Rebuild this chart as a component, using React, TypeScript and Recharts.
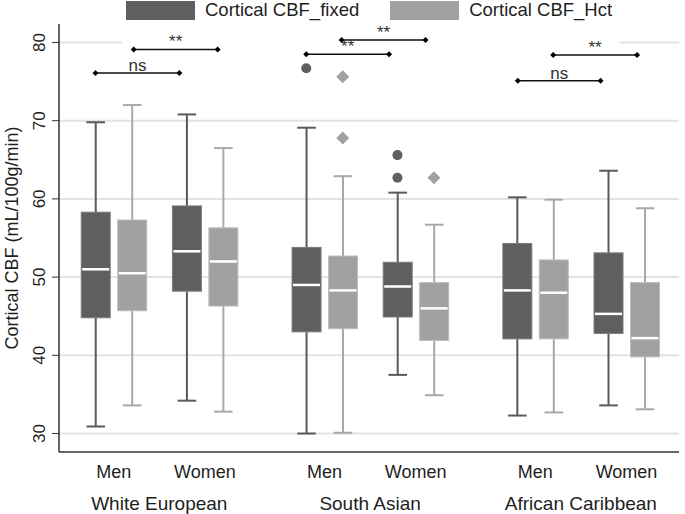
import {
  Bar,
  CartesianGrid,
  ComposedChart,
  Legend,
  ReferenceLine,
  Scatter,
  XAxis,
  YAxis,
} from "recharts"

const groups = ["White European", "South Asian", "African Caribbean"]
const sexes = ["Men", "Women"]
const measures = ["Cortical CBF_fixed", "Cortical CBF_Hct"]

// order: WE men, WE women, SA men, SA women, AC men, AC women
const fixedMin = [30.9, 34.2, 30.0, 37.5, 32.3, 33.6]
const fixedQ1 = [44.8, 48.2, 43.0, 44.9, 42.1, 42.8]
const fixedMedian = [51.0, 53.3, 49.0, 48.8, 48.3, 45.3]
const fixedQ3 = [58.3, 59.1, 53.8, 51.9, 54.3, 53.1]
const fixedMax = [69.8, 70.8, 69.1, 60.8, 60.2, 63.6]

const hctMin = [33.6, 32.8, 30.1, 34.9, 32.7, 33.1]
const hctQ1 = [45.7, 46.3, 43.4, 41.9, 42.1, 39.8]
const hctMedian = [50.5, 52.0, 48.3, 46.0, 48.0, 42.2]
const hctQ3 = [57.3, 56.3, 52.7, 49.3, 52.2, 49.3]
const hctMax = [72.0, 66.5, 62.9, 56.7, 59.9, 58.8]

// outliers: index into the six group/sex slots above
const fixedOutlierSlot = [2, 3, 3]
const fixedOutlierValue = [76.7, 65.6, 62.7]
const hctOutlierSlot = [2, 2, 3]
const hctOutlierValue = [75.6, 67.8, 62.7]

const bracketFrom = [1.0, 2.05, 6.78, 7.75, 12.58, 13.55]
const bracketTo = [3.3, 4.35, 9.05, 10.05, 14.85, 15.85]
const bracketY = [76.1, 79.1, 78.5, 80.3, 75.1, 78.4]
const bracketText = ["ns", "**", "**", "**", "ns", "**"]

const yTicks = [30, 40, 50, 60, 70, 80]

const GROUP_STEP = 5.78
const SEX_STEP = 2.5
const X_DOMAIN: [number, number] = [0, 17]
const Y_DOMAIN: [number, number] = [27.64, 82.36]

const DARK = "#5f5f5f"
const LIGHT = "#a1a1a1"
const TEXT = "#1e1e1e"
const FONT = "'Liberation Sans', Arial, sans-serif"

const slotX = (i: number) => 1 + Math.floor(i / 2) * GROUP_STEP + (i % 2) * SEX_STEP

const boxes = groups.flatMap((_, g) =>
  sexes.flatMap((_, s) => {
    const i = g * 2 + s
    return [
      { x: slotX(i), measure: 0, range: [fixedMin[i], fixedMax[i]], q1: fixedQ1[i], median: fixedMedian[i], q3: fixedQ3[i] },
      { x: slotX(i) + 1, measure: 1, range: [hctMin[i], hctMax[i]], q1: hctQ1[i], median: hctMedian[i], q3: hctQ3[i] },
    ]
  }),
)

const fixedOutliers = fixedOutlierSlot.map((s, i) => ({ x: slotX(s), y: fixedOutlierValue[i] }))
const hctOutliers = hctOutlierSlot.map((s, i) => ({ x: slotX(s) + 1, y: hctOutlierValue[i] }))
const bracketEnds = bracketY.flatMap((y, i) => [
  { x: bracketFrom[i], y },
  { x: bracketTo[i], y },
])

const slotTicks = [0, 1, 2, 3, 4, 5].map((i) => slotX(i) + 0.5)
const groupTicks = [0, 1, 2].map((g) => slotX(g * 2) + 1.75)

function BoxShape(props: any) {
  const { x, y, width, height, payload } = props
  const [lo, hi] = payload.range
  const py = (v: number) => y + (height * (hi - v)) / (hi - lo)
  const dark = payload.measure === 0
  const fill = dark ? DARK : LIGHT
  const whisker = dark ? "#5a5a5a" : "#a8a8a8"
  const cx = x + width / 2
  const cap = width * 0.32
  const top = py(payload.q3)
  const bottom = py(payload.q1)
  return (
    <g>
      <line x1={cx} x2={cx} y1={y} y2={top} stroke={whisker} strokeWidth={2} />
      <line x1={cx} x2={cx} y1={bottom} y2={y + height} stroke={whisker} strokeWidth={2} />
      <line x1={cx - cap} x2={cx + cap} y1={y} y2={y} stroke={whisker} strokeWidth={2} />
      <line x1={cx - cap} x2={cx + cap} y1={y + height} y2={y + height} stroke={whisker} strokeWidth={2} />
      <rect x={x} y={top} width={width} height={bottom - top} fill={fill} stroke={dark ? "#7c7c7c" : "#bdbdbd"} strokeWidth={1} />
      <line x1={x + 1} x2={x + width - 1} y1={py(payload.median)} y2={py(payload.median)} stroke="#fff" strokeWidth={2.5} />
    </g>
  )
}

const Circle = ({ cx, cy }: any) => <circle cx={cx} cy={cy} r={5} fill={DARK} />
const Diamond = ({ cx, cy }: any) => (
  <polygon points={`${cx},${cy - 6.5} ${cx + 6.5},${cy} ${cx},${cy + 6.5} ${cx - 6.5},${cy}`} fill={LIGHT} />
)
const EndMark = ({ cx, cy }: any) => (
  <polygon points={`${cx},${cy - 3} ${cx + 3},${cy} ${cx},${cy + 3} ${cx - 3},${cy}`} fill="#000" />
)

const YTick = ({ x, y, payload }: any) => (
  <text x={x - 5} y={y} transform={`rotate(-90, ${x - 5}, ${y})`} textAnchor="middle" fontSize={17} fill={TEXT} fontFamily={FONT}>
    {payload.value}
  </text>
)

const SlotTick = ({ x, y, payload }: any) => (
  <text x={x} y={y + 25.5} textAnchor="middle" fontSize={18} fill={TEXT} fontFamily={FONT}>
    {sexes[slotTicks.indexOf(payload.value) % 2]}
  </text>
)

const GroupTick = ({ x, y, payload }: any) => (
  <text x={x} y={y + 27.5} textAnchor="middle" fontSize={19} fill={TEXT} fontFamily={FONT}>
    {groups[groupTicks.indexOf(payload.value)]}
  </text>
)

const YLabel = ({ viewBox }: any) => {
  const cy = viewBox.y + viewBox.height / 2
  return (
    <text x={18} y={cy} transform={`rotate(-90, 18, ${cy})`} textAnchor="middle" fontSize={18} fill={TEXT} fontFamily={FONT}>
      Cortical CBF (mL/100g/min)
    </text>
  )
}

function LegendContent() {
  return (
    <div style={{ display: "flex", alignItems: "center", height: 20, marginLeft: 126, fontFamily: FONT, fontSize: 18.5, color: TEXT }}>
      <span style={{ width: 69, height: 19, background: DARK, display: "inline-block" }} />
      <span style={{ marginLeft: 10, marginRight: 31, whiteSpace: "nowrap" }}>{measures[0]}</span>
      <span style={{ width: 69, height: 19, background: LIGHT, display: "inline-block" }} />
      <span style={{ marginLeft: 10, whiteSpace: "nowrap" }}>{measures[1]}</span>
    </div>
  )
}

export default function App() {
  return (
    <div style={{ position: "absolute", left: 0, top: 0, background: "#fff" }}>
      <ComposedChart width={685} height={514} data={boxes} margin={{ top: 4, right: 6, bottom: 0, left: 0 }}>
        <Legend verticalAlign="top" align="left" content={LegendContent} wrapperStyle={{ top: 0, left: 0, width: 685 }} />
        <CartesianGrid
          xAxisId="a"
          yAxisId="left"
          vertical={false}
          horizontalValues={[30, 40, 50, 60, 70]}
          stroke="#e3e3e3"
          strokeWidth={2}
        />
        <XAxis
          xAxisId="b"
          type="number"
          dataKey="x"
          domain={X_DOMAIN}
          allowDataOverflow
          ticks={groupTicks}
          tick={GroupTick}
          tickLine={false}
          tickSize={0}
          tickMargin={0}
          axisLine={false}
          height={32}
        />
        <XAxis
          xAxisId="a"
          type="number"
          dataKey="x"
          domain={X_DOMAIN}
          allowDataOverflow
          ticks={slotTicks}
          tick={SlotTick}
          tickLine={false}
          tickSize={0}
          tickMargin={0}
          height={30}
          axisLine={{ stroke: "#333", strokeWidth: 1.5 }}
        />
        <XAxis xAxisId="pts" type="number" dataKey="x" domain={X_DOMAIN} allowDataOverflow hide />
        <XAxis xAxisId="top" orientation="top" type="number" dataKey="x" domain={X_DOMAIN} allowDataOverflow tick={false} tickLine={false} height={0} axisLine={{ stroke: "#333", strokeWidth: 1.5 }} />
        <YAxis
          yAxisId="left"
          type="number"
          domain={Y_DOMAIN}
          allowDataOverflow
          ticks={yTicks}
          tick={YTick}
          tickSize={7}
          tickMargin={2}
          tickLine={{ stroke: "#333" }}
          axisLine={{ stroke: "#333", strokeWidth: 1.5 }}
          width={59}
          label={<YLabel />}
        />
        <YAxis yAxisId="right" orientation="right" type="number" domain={Y_DOMAIN} allowDataOverflow tick={false} tickLine={false} width={0} axisLine={{ stroke: "#333", strokeWidth: 1.5 }} />
        <ReferenceLine xAxisId="pts" yAxisId="left" segment={[{ x: 0, y: 80 }, { x: 1.73, y: 80 }]} stroke="#e3e3e3" strokeWidth={2} />
        <ReferenceLine xAxisId="pts" yAxisId="left" segment={[{ x: 15.38, y: 80 }, { x: 17, y: 80 }]} stroke="#e3e3e3" strokeWidth={2} />
        <Bar xAxisId="a" yAxisId="left" dataKey="range" barSize={29} shape={BoxShape} isAnimationActive={false} />
        <Scatter xAxisId="pts" yAxisId="left" data={fixedOutliers} dataKey="y" shape={Circle} isAnimationActive={false} />
        <Scatter xAxisId="pts" yAxisId="left" data={hctOutliers} dataKey="y" shape={Diamond} isAnimationActive={false} />
        {bracketY.map((y, i) => (
          <ReferenceLine
            key={i}
            xAxisId="pts"
            yAxisId="left"
            segment={[{ x: bracketFrom[i], y }, { x: bracketTo[i], y }]}
            stroke="#111"
            strokeWidth={1.5}
            label={{ value: bracketText[i], position: "top", offset: 2, fontSize: bracketText[i] === "ns" ? 17 : 17, fill: "#333", fontFamily: FONT }}
          />
        ))}
        <Scatter xAxisId="pts" yAxisId="left" data={bracketEnds} dataKey="y" shape={EndMark} isAnimationActive={false} />
      </ComposedChart>
    </div>
  )
}
